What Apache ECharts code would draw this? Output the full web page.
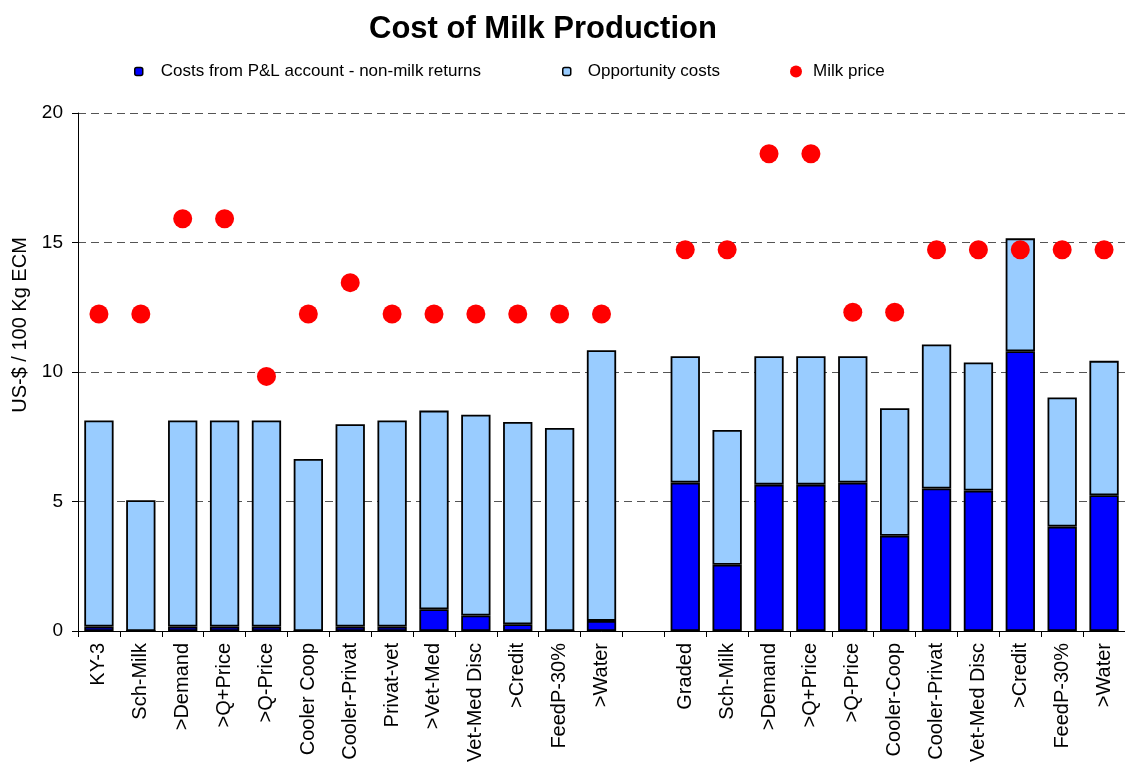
<!DOCTYPE html>
<html>
<head>
<meta charset="utf-8">
<title>Cost of Milk Production</title>
<script src="https://cdn.jsdelivr.net/npm/echarts@6/dist/echarts.min.js"></script>
<style>
  html, body { margin: 0; padding: 0; background: #ffffff; }
  #chart { width: 1125px; height: 769px; }
</style>
</head>
<body>
<div id="chart"></div>
<script>
// Scenarios: two groups of farms separated by an empty slot
const categories = [
  'KY-3', 'Sch-Milk', '>Demand', '>Q+Price', '>Q-Price', 'Cooler Coop', 'Cooler-Privat',
  'Privat-vet', '>Vet-Med', 'Vet-Med Disc', '>Credit', 'FeedP-30%', '>Water',
  '',
  'Graded', 'Sch-Milk', '>Demand', '>Q+Price', '>Q-Price', 'Cooler-Coop', 'Cooler-Privat',
  'Vet-Med Disc', '>Credit', 'FeedP-30%', '>Water'
];

// US-$ / 100 kg ECM
const plCosts = [
  0.17, 0, 0.17, 0.17, 0.17, 0, 0.17, 0.17, 0.84, 0.60, 0.26, 0, 0.39,
  null,
  5.73, 2.56, 5.65, 5.65, 5.73, 3.68, 5.50, 5.42, 10.80, 4.03, 5.24
];

const opportunityCosts = [
  7.96, 5.05, 7.96, 7.96, 7.96, 6.64, 7.81, 7.96, 7.67, 7.75, 7.81, 7.84, 10.45,
  null,
  4.88, 5.20, 4.96, 4.96, 4.88, 4.92, 5.56, 4.95, 4.36, 4.99, 5.19
];

const milkPrice = [
  12.24, 12.24, 15.92, 15.92, 9.83, 12.24, 13.45, 12.24, 12.24, 12.24, 12.24, 12.24, 12.24,
  null,
  14.72, 14.72, 18.43, 18.43, 12.31, 12.31, 14.72, 14.72, 14.72, 14.72, 14.72
];

const yTicks = { min: 0, max: 20, interval: 5 };

const FONT = "'Liberation Sans', Arial, sans-serif";

const chart = echarts.init(document.getElementById('chart'));

const legendBase = {
  top: 58,
  orient: 'horizontal',
  itemGap: 0,
  textStyle: { fontFamily: FONT, fontSize: 17, color: '#000', padding: [0, 0, 0, 10] }
};

chart.setOption({
  animation: false,
  backgroundColor: '#ffffff',
  title: {
    text: 'Cost of Milk Production',
    left: 364,
    top: 9,
    textStyle: { fontFamily: FONT, fontSize: 31, fontWeight: 'bold', color: '#000' }
  },
  legend: [
    Object.assign({}, legendBase, {
      left: 129,
      data: ['Costs from P&L account - non-milk returns'],
      itemWidth: 8, itemHeight: 8,
      itemStyle: { borderColor: '#000', borderWidth: 1.5 },
      textStyle: { fontFamily: FONT, fontSize: 17, color: '#000', padding: [0, 0, 0, 13] }
    }),
    Object.assign({}, legendBase, {
      left: 557,
      data: ['Opportunity costs'],
      itemWidth: 8, itemHeight: 8,
      itemStyle: { borderColor: '#000', borderWidth: 1.5 },
      textStyle: { fontFamily: FONT, fontSize: 17, color: '#000', padding: [0, 0, 0, 12] }
    }),
    Object.assign({}, legendBase, {
      left: 785,
      data: ['Milk price'],
      itemWidth: 12, itemHeight: 12,
      textStyle: { fontFamily: FONT, fontSize: 17, color: '#000', padding: [0, 0, 0, 6] }
    })
  ],
  grid: { left: 78, top: 113, width: 1052, height: 518, containLabel: false },
  xAxis: {
    type: 'category',
    data: categories,
    boundaryGap: true,
    axisLine: { show: true, lineStyle: { color: '#000', width: 1 } },
    axisTick: { show: true, length: 6, lineStyle: { color: '#000' } },
    axisLabel: {
      rotate: 90,
      interval: 0,
      margin: 12,
      fontFamily: FONT,
      fontSize: 20,
      color: '#000'
    },
    splitLine: { show: false }
  },
  yAxis: {
    type: 'value',
    min: yTicks.min,
    max: yTicks.max,
    interval: yTicks.interval,
    name: 'US-$ / 100 Kg ECM',
    nameLocation: 'middle',
    nameGap: 47,
    nameTextStyle: { fontFamily: FONT, fontSize: 20, color: '#000', padding: [0, 0, 0, 94] },
    axisLine: { show: true, lineStyle: { color: '#000', width: 1 } },
    axisTick: { show: true, length: 6, lineStyle: { color: '#000' } },
    axisLabel: { fontFamily: FONT, fontSize: 19, color: '#000', margin: 15 },
    splitLine: { show: true, lineStyle: { color: '#555', type: [8, 5], width: 1 } }
  },
  series: [
    {
      name: 'Costs from P&L account - non-milk returns',
      type: 'bar',
      stack: 'cost',
      data: plCosts,
      barWidth: '70%',
      itemStyle: { color: '#0000FF', borderColor: '#000', borderWidth: 1.8 }
    },
    {
      name: 'Opportunity costs',
      type: 'bar',
      stack: 'cost',
      data: opportunityCosts,
      barWidth: '70%',
      itemStyle: { color: '#99CCFF', borderColor: '#000', borderWidth: 1.8 }
    },
    {
      name: 'Milk price',
      type: 'scatter',
      data: milkPrice,
      symbol: 'circle',
      symbolSize: 19,
      z: 5,
      itemStyle: { color: '#FF0000', opacity: 1 }
    }
  ]
});
</script>
</body>
</html>
